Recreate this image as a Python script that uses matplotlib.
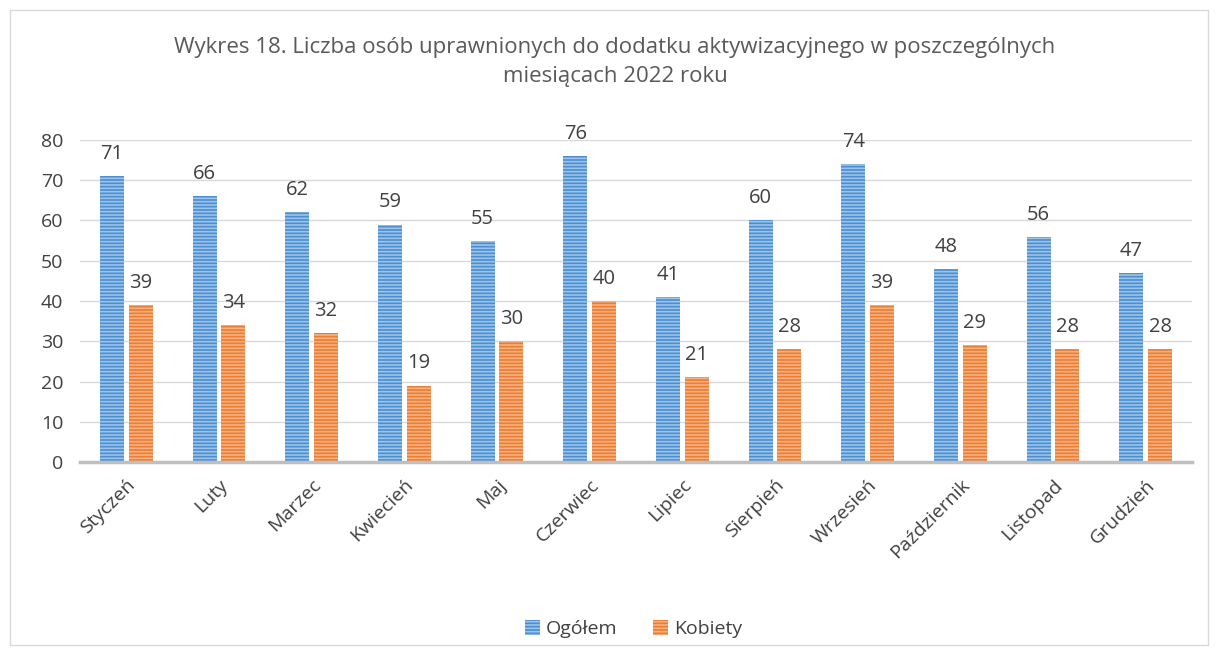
import matplotlib.pyplot as plt
import numpy as np
from matplotlib.patches import Rectangle

# dane
miesiace = ['Styczeń', 'Luty', 'Marzec', 'Kwiecień', 'Maj', 'Czerwiec', 'Lipiec',
            'Sierpień', 'Wrzesień', 'Październik', 'Listopad', 'Grudzień']
ogolem = [71, 66, 62, 59, 55, 76, 41, 60, 74, 48, 56, 47]
kobiety = [39, 34, 32, 19, 30, 40, 21, 28, 39, 29, 28, 28]

plt.rcParams['font.family'] = ['Open Sans', 'DejaVu Sans']
plt.rcParams['hatch.linewidth'] = 1.2

fig = plt.figure(figsize=(12.18, 6.52), dpi=100, facecolor='white')
ax = fig.add_axes([0.0657, 0.2914, 0.9130, 0.4939])

# ramka wykresu
fig.patches.append(Rectangle((0.008, 0.01), 0.984, 0.975, transform=fig.transFigure,
                             fill=False, edgecolor='#D9D9D9', linewidth=1))

x = np.arange(len(miesiace))
w = 0.26
b1 = ax.bar(x - 0.155, ogolem, w, color='#4A8FD4', edgecolor='#9DC3E6',
            linewidth=0, hatch='-----', label='Ogółem', zorder=3)
b2 = ax.bar(x + 0.155, kobiety, w, color='#ED7D31', edgecolor='#F4B183',
            linewidth=0, hatch='-----', label='Kobiety', zorder=3)

for rects, vals in ((b1, ogolem), (b2, kobiety)):
    for r, v in zip(rects, vals):
        ax.text(r.get_x() + r.get_width() / 2, v + 3.0, str(v), ha='center',
                va='bottom', fontsize=14.5, color='#404040')

ax.set_xlim(-0.5, len(miesiace) - 0.5)
ax.set_ylim(0, 80)
ax.set_yticks(range(0, 81, 10))
ax.yaxis.grid(True, color='#D9D9D9', linewidth=1, zorder=0)
ax.set_axisbelow(True)
for s in ['top', 'right', 'left']:
    ax.spines[s].set_visible(False)
ax.spines['bottom'].set_color('#BFBFBF')
ax.spines['bottom'].set_linewidth(2.5)
ax.spines['bottom'].set_zorder(4)
ax.tick_params(axis='both', length=0, labelsize=14, labelcolor='#404040')
ax.tick_params(axis='y', pad=12)
ax.set_xticks(x)
ax.set_xticklabels(miesiace, rotation=45, ha='right', rotation_mode='anchor')
ax.tick_params(axis='x', pad=10)

fig.text(0.505, 0.905, 'Wykres 18. Liczba osób uprawnionych do dodatku aktywizacyjnego w poszczególnych\nmiesiącach 2022 roku',
         ha='center', va='center', fontsize=16, color='#595959', linespacing=1.45)

fig.legend(handles=[b1, b2], loc='center', bbox_to_anchor=(0.52, 0.035), ncol=2,
           frameon=False, fontsize=14, labelcolor='#404040', handlelength=0.8,
           handleheight=0.8, handletextpad=0.3, columnspacing=1.8)

fig.savefig('out.png', dpi=100)
